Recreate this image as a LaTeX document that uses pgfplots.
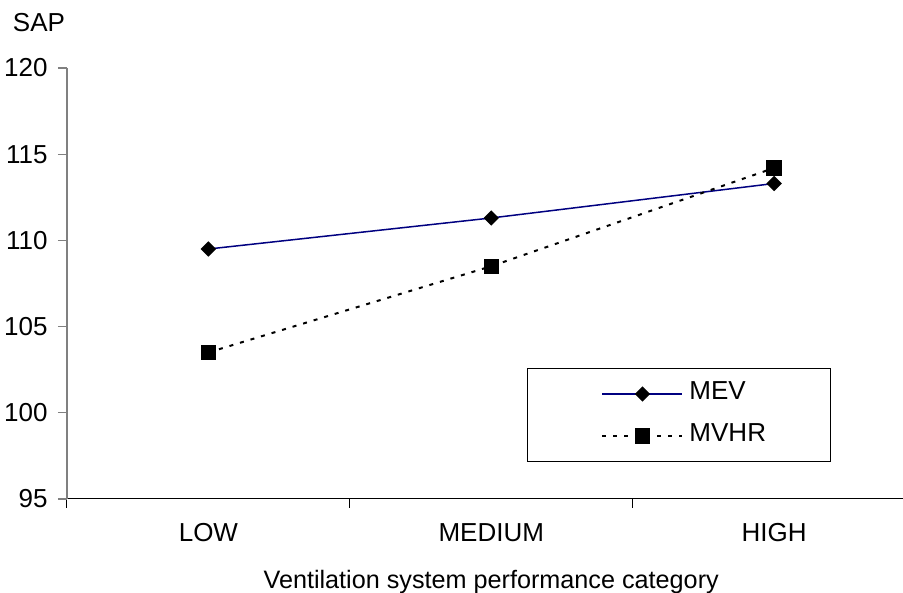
\documentclass[border=0pt]{standalone}
\usepackage{fontspec}
\setmainfont{Liberation Sans}
\usepackage{pgfplots}
\pgfplotsset{compat=1.18}
\definecolor{navy}{RGB}{0,0,128}
\definecolor{axgray}{RGB}{128,128,128}
\begin{document}
\fontsize{13}{15}\selectfont
\begin{tikzpicture}
\begin{axis}[
 at={(0,0)}, anchor=south west,
 scale only axis, width=418pt, height=215.5pt,
 xmin=-0.5, xmax=2.456, ymin=95, ymax=120,
 axis lines*=left,
 x axis line style={black, line width=0.5pt},
 y axis line style={axgray, line width=0.6pt},
 clip=false,
 /pgf/number format/assume math mode=true,
 ytick={95,100,...,120},
 xtick={0,1,2}, xticklabels={LOW,MEDIUM,HIGH},
 minor xtick={-0.5,0.5,1.5},
 tick align=outside,
 major tick length=4.5pt, minor tick length=4.5pt,
 major x tick style={draw=none},
 minor x tick style={draw=black, line width=0.5pt},
 major y tick style={draw=axgray, line width=0.6pt},
 ticklabel style={font=\fontsize{13}{15}\selectfont},
 yticklabel style={anchor=east, inner sep=0pt, xshift=-5pt},
 xticklabel style={anchor=base, inner sep=0pt, yshift=-16.5pt},
 xlabel={Ventilation system performance category},
 xlabel style={at={(axis description cs:0.5074,0)}, anchor=base, inner sep=0pt, yshift=-44.5pt, font=\fontsize{12.6}{15}\selectfont},
 ylabel={SAP},
 ylabel style={rotate=-90, at={(axis description cs:0,1)}, anchor=base west, inner sep=0pt, xshift=-27.2pt, yshift=18.2pt, font=\fontsize{13}{15}\selectfont},
 legend style={at={(0.5502,0.3039)}, anchor=north west, draw=black, line width=0.5pt,
   inner xsep=32.2pt, inner ysep=8.45pt, row sep=12.4pt, column sep=3pt,
   nodes={inner sep=0pt, text height=7.1pt, text depth=1.5pt, font=\fontsize{13}{15}\selectfont},
   cells={anchor=west}},
 legend image code/.code={\path (0pt,0pt); \draw[mark repeat=2, mark phase=2, #1] plot coordinates {(4.8pt,0pt) (24.8pt,0pt) (44.8pt,0pt)};},
]
\addplot[navy, line width=0.75pt, mark=square*, mark size=2.35pt, mark options={fill=black, draw=black, rotate=45, solid}] coordinates {(0,109.5) (1,111.3) (2,113.3)};
\addlegendentry{MEV}
\addplot[black, line width=1pt, dash pattern=on 2pt off 3.5pt, mark=square*, mark size=3.3pt, mark options={solid, fill=black}] coordinates {(0,103.5) (1,108.5) (2,114.2)};
\addlegendentry{MVHR}
\end{axis}
\pgfresetboundingbox
\useasboundingbox (-33.5pt,-47pt) rectangle (418pt,249.5pt);
\end{tikzpicture}
\end{document}
